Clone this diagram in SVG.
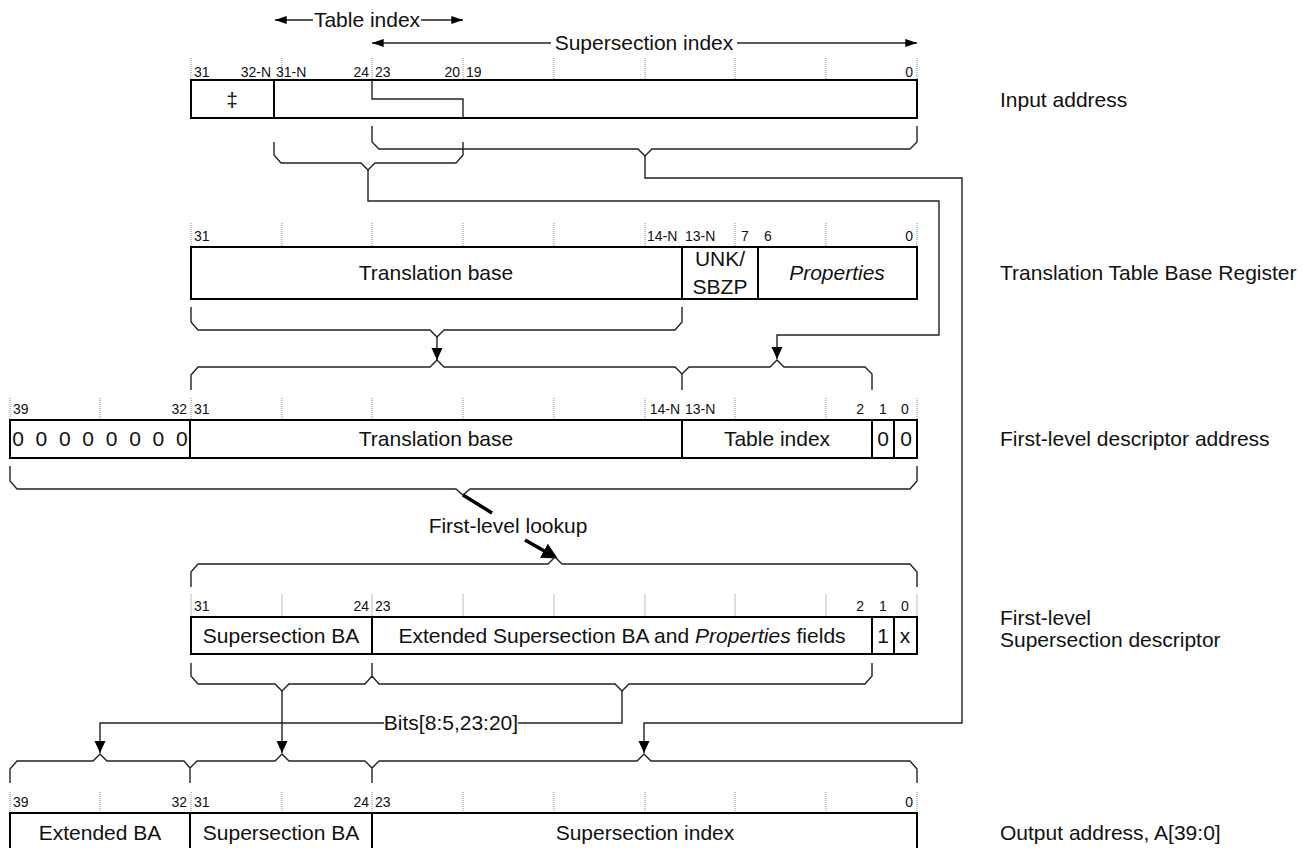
<svg xmlns="http://www.w3.org/2000/svg" width="1315" height="848" viewBox="0 0 1315 848">
<defs>
<style>
text{font-family:"Liberation Sans",Arial,sans-serif;fill:#111}
.t{font-size:21px}
.c{text-anchor:middle}
.e{text-anchor:end}
.n{font-size:14px}
.i{font-style:italic}
.box{fill:#fff;stroke:#000;stroke-width:2}
.dv{stroke:#000;stroke-width:2;fill:none}
.tk{stroke:#888;stroke-width:1;stroke-dasharray:1 1}
.tk2{stroke:#bbb;stroke-width:1}
.br{fill:none;stroke:#222;stroke-width:1.4}
.ar{fill:none;stroke:#222;stroke-width:1.4;marker-end:url(#ah)}
</style>
<marker id="ah" viewBox="0 0 12 12" refX="12" refY="6" markerWidth="12" markerHeight="12" markerUnits="userSpaceOnUse" orient="auto"><path d="M0,0.5 L12,6 L0,11.5 Z" fill="#000"/></marker>
<marker id="ah2" viewBox="0 0 13 10" refX="13" refY="5" markerWidth="13" markerHeight="9" markerUnits="userSpaceOnUse" orient="auto"><path d="M0,0.5 L13,5 L0,9.5 Z" fill="#000"/></marker>
<marker id="ah3" viewBox="0 0 10 10" refX="8" refY="5" markerWidth="16" markerHeight="16" markerUnits="userSpaceOnUse" orient="auto"><path d="M0,0 L10,5 L0,10 Z" fill="#000"/></marker>
</defs>
<rect width="1315" height="848" fill="#fff"/>

<!-- top field range arrows -->
<g id="range-labels">
<line x1="313" y1="20" x2="275" y2="20" class="br" marker-end="url(#ah2)"/>
<line x1="421" y1="20" x2="463" y2="20" class="br" marker-end="url(#ah2)"/>
<text x="367" y="27" class="t c">Table index</text>
<line x1="551" y1="43" x2="372" y2="43" class="br" marker-end="url(#ah2)"/>
<line x1="737" y1="43" x2="917" y2="43" class="br" marker-end="url(#ah2)"/>
<text x="644" y="50" class="t c">Supersection index</text>
</g>

<!-- Input address -->
<g id="input-address">
<g class="tk"><line x1="191" y1="58" x2="191" y2="80"/><line x1="282" y1="58" x2="282" y2="80"/><line x1="372" y1="58" x2="372" y2="80"/><line x1="463" y1="58" x2="463" y2="80"/><line x1="554" y1="58" x2="554" y2="80"/><line x1="645" y1="58" x2="645" y2="80"/><line x1="735" y1="58" x2="735" y2="80"/><line x1="826" y1="58" x2="826" y2="80"/><line x1="917" y1="58" x2="917" y2="80"/></g>
<text x="194" y="77" class="n">31</text>
<text x="271" y="77" class="n e">32-N</text>
<text x="276" y="77" class="n">31-N</text>
<text x="369" y="77" class="n e">24</text>
<text x="375" y="77" class="n">23</text>
<text x="460" y="77" class="n e">20</text>
<text x="466" y="77" class="n">19</text>
<text x="913" y="77" class="n e">0</text>
<rect x="191" y="80" width="726" height="38" class="box"/>
<line x1="274" y1="80" x2="274" y2="118" class="dv"/>
<path d="M372,80 V99 H463 V118" class="br" stroke-width="1.5"/>
<text x="232" y="107" class="t c">‡</text>
<text x="1000" y="107" class="t">Input address</text>
</g>

<!-- TTBR -->
<g id="ttbr">
<g class="tk"><line x1="191" y1="223" x2="191" y2="247"/><line x1="282" y1="223" x2="282" y2="247"/><line x1="372" y1="223" x2="372" y2="247"/><line x1="463" y1="223" x2="463" y2="247"/><line x1="554" y1="223" x2="554" y2="247"/><line x1="645" y1="223" x2="645" y2="247"/><line x1="735" y1="223" x2="735" y2="247"/><line x1="826" y1="223" x2="826" y2="247"/><line x1="917" y1="223" x2="917" y2="247"/></g>
<text x="194" y="241" class="n">31</text>
<text x="647" y="241" class="n">14-N</text>
<text x="685" y="241" class="n">13-N</text>
<text x="741" y="241" class="n">7</text>
<text x="764" y="241" class="n">6</text>
<text x="913" y="241" class="n e">0</text>
<rect x="191" y="247" width="726" height="52" class="box"/>
<line x1="682" y1="247" x2="682" y2="299" class="dv"/>
<line x1="758" y1="247" x2="758" y2="299" class="dv"/>
<text x="436" y="280" class="t c">Translation base</text>
<text x="720" y="266" class="t c">UNK/</text>
<text x="720" y="294" class="t c">SBZP</text>
<text x="837" y="280" class="t c i">Properties</text>
<text x="1000" y="280" class="t">Translation Table Base Register</text>
</g>

<!-- First-level descriptor address -->
<g id="fl-descriptor-address">
<g class="tk"><line x1="10" y1="398" x2="10" y2="420"/><line x1="100" y1="398" x2="100" y2="420"/><line x1="191" y1="398" x2="191" y2="420"/><line x1="282" y1="398" x2="282" y2="420"/><line x1="372" y1="398" x2="372" y2="420"/><line x1="463" y1="398" x2="463" y2="420"/><line x1="554" y1="398" x2="554" y2="420"/><line x1="645" y1="398" x2="645" y2="420"/><line x1="735" y1="398" x2="735" y2="420"/><line x1="826" y1="398" x2="826" y2="420"/><line x1="917" y1="398" x2="917" y2="420"/></g>
<text x="13" y="414" class="n">39</text>
<text x="187" y="414" class="n e">32</text>
<text x="194" y="414" class="n">31</text>
<text x="680" y="414" class="n e">14-N</text>
<text x="685" y="414" class="n">13-N</text>
<text x="864" y="414" class="n e">2</text>
<text x="883" y="414" class="n c">1</text>
<text x="905" y="414" class="n c">0</text>
<rect x="10" y="420" width="907" height="38" class="box"/>
<line x1="190" y1="420" x2="190" y2="458" class="dv"/>
<line x1="682" y1="420" x2="682" y2="458" class="dv"/>
<line x1="872" y1="420" x2="872" y2="458" class="dv"/>
<line x1="894" y1="420" x2="894" y2="458" class="dv"/>
<g class="t c"><text x="18" y="446">0</text><text x="41.4" y="446">0</text><text x="64.8" y="446">0</text><text x="88.2" y="446">0</text><text x="111.6" y="446">0</text><text x="135" y="446">0</text><text x="158.4" y="446">0</text><text x="181.8" y="446">0</text></g>
<text x="436" y="446" class="t c">Translation base</text>
<text x="777" y="446" class="t c">Table index</text>
<text x="883" y="446" class="t c">0</text>
<text x="906" y="446" class="t c">0</text>
<text x="1000" y="446" class="t">First-level descriptor address</text>
</g>

<!-- First-level Supersection descriptor -->
<g id="fl-supersection-descriptor">
<g class="tk2"><line x1="191" y1="594" x2="191" y2="617"/><line x1="282" y1="594" x2="282" y2="617"/><line x1="372" y1="594" x2="372" y2="617"/><line x1="463" y1="594" x2="463" y2="617"/><line x1="554" y1="594" x2="554" y2="617"/><line x1="645" y1="594" x2="645" y2="617"/><line x1="735" y1="594" x2="735" y2="617"/><line x1="826" y1="594" x2="826" y2="617"/><line x1="917" y1="594" x2="917" y2="617"/></g>
<text x="194" y="611" class="n">31</text>
<text x="369" y="611" class="n e">24</text>
<text x="375" y="611" class="n">23</text>
<text x="864" y="611" class="n e">2</text>
<text x="883" y="611" class="n c">1</text>
<text x="905" y="611" class="n c">0</text>
<rect x="191" y="617" width="726" height="37" class="box"/>
<line x1="372" y1="617" x2="372" y2="654" class="dv"/>
<line x1="872" y1="617" x2="872" y2="654" class="dv"/>
<line x1="894" y1="617" x2="894" y2="654" class="dv"/>
<text x="281" y="643" class="t c">Supersection BA</text>
<text x="622" y="643" class="t c">Extended Supersection BA and <tspan class="i">Properties</tspan> fields</text>
<text x="883" y="643" class="t c">1</text>
<text x="905" y="643" class="t c">x</text>
<text x="1000" y="625" class="t">First-level</text>
<text x="1000" y="647" class="t">Supersection descriptor</text>
</g>

<!-- Output address -->
<g id="output-address">
<g class="tk"><line x1="10" y1="792" x2="10" y2="813"/><line x1="100" y1="792" x2="100" y2="813"/><line x1="191" y1="792" x2="191" y2="813"/><line x1="282" y1="792" x2="282" y2="813"/><line x1="372" y1="792" x2="372" y2="813"/><line x1="463" y1="792" x2="463" y2="813"/><line x1="554" y1="792" x2="554" y2="813"/><line x1="645" y1="792" x2="645" y2="813"/><line x1="735" y1="792" x2="735" y2="813"/><line x1="826" y1="792" x2="826" y2="813"/><line x1="917" y1="792" x2="917" y2="813"/></g>
<text x="13" y="807" class="n">39</text>
<text x="187" y="807" class="n e">32</text>
<text x="194" y="807" class="n">31</text>
<text x="369" y="807" class="n e">24</text>
<text x="375" y="807" class="n">23</text>
<text x="913" y="807" class="n e">0</text>
<rect x="10" y="813" width="907" height="40" class="box"/>
<line x1="190" y1="813" x2="190" y2="853" class="dv"/>
<line x1="372" y1="813" x2="372" y2="853" class="dv"/>
<text x="100" y="840" class="t c">Extended BA</text>
<text x="281" y="840" class="t c">Supersection BA</text>
<text x="645" y="840" class="t c">Supersection index</text>
<text x="1000" y="840" class="t">Output address, A[39:0]</text>
</g>

<!-- connectors and braces -->
<g id="connectors">
<path d="M274,142 V155 L281,163 H361 L368,170 L375,163 H456 L463,155 V142" class="br"/>
<path d="M372,126 V142 L379,149 H638 L645,156 L652,149 H910 L917,142 V126" class="br"/>
<path d="M368,170 V201 H939 V335 H777 V359" class="ar"/>
<path d="M645,156 V178 H962 V723 H644 V753" class="ar"/>
<path d="M191,307 V322 L198,330 H430 L437,337 L444,330 H675 L682,322 V307" class="br"/>
<path d="M437,337 V360" class="ar"/>
<path d="M191,390 V375 L198,367 H430 L437,360 L444,367 H675 L682,374 L689,367 H770 L777,360 L784,367 H865 L872,374 V390 M682,374 V390" class="br"/>
<path d="M10,466 V481 L17,489 H456 L463,495 L470,489 H910 L917,481 V466" class="br"/>
<line x1="463" y1="495" x2="492" y2="513" stroke="#000" stroke-width="3.5"/>
<text x="508" y="533" class="t c">First-level lookup</text>
<line x1="525" y1="540" x2="555" y2="557" stroke="#000" stroke-width="3.5" marker-end="url(#ah3)"/>
<path d="M191,587 V572 L198,564 H548 L555,557 L562,564 H910 L917,572 V587" class="br"/>
<path d="M191,663 V676 L198,684 H275 L282,691 L289,684 H365 L372,676 L379,684 H615 L622,691 L629,684 H865 L872,676 V663 M372,676 V663" class="br"/>
<path d="M282,691 V753" class="ar"/>
<path d="M622,691 V723 H518" class="br"/>
<text x="451" y="730" class="t c">Bits[8:5,23:20]</text>
<path d="M384,723 H100 V753" class="ar"/>
<path d="M10,783 V769 L17,761 H93 L100,754 L107,761 H184 L190,768 L197,761 H275 L282,754 L289,761 H365 L372,768 L379,761 H637 L644,754 L651,761 H910 L917,769 V783 M190,768 V783 M372,768 V783" class="br"/>
</g>
</svg>
